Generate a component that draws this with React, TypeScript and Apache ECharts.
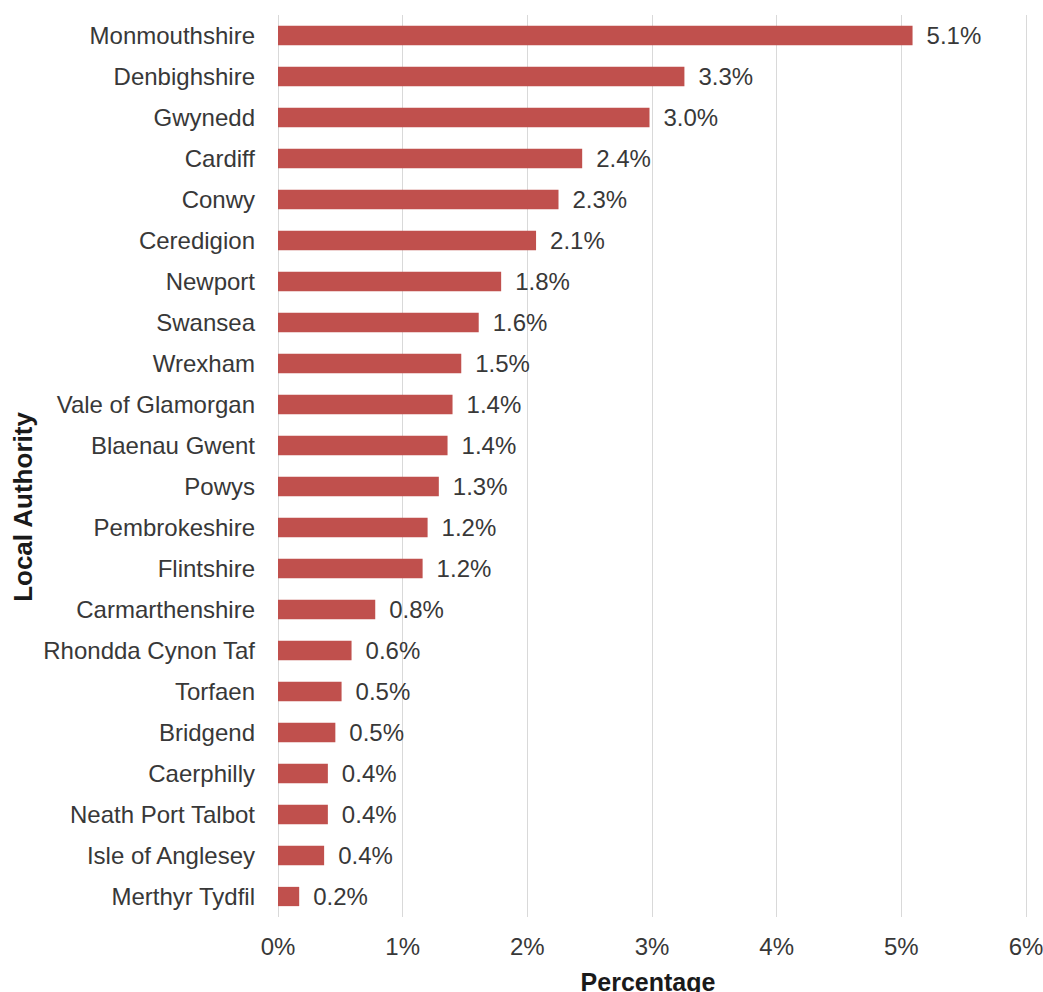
import React, { useEffect, useRef } from "react";
import * as echarts from "echarts";

const categories = [
  "Monmouthshire", "Denbighshire", "Gwynedd", "Cardiff", "Conwy", "Ceredigion",
  "Newport", "Swansea", "Wrexham", "Vale of Glamorgan", "Blaenau Gwent", "Powys",
  "Pembrokeshire", "Flintshire", "Carmarthenshire", "Rhondda Cynon Taf", "Torfaen",
  "Bridgend", "Caerphilly", "Neath Port Talbot", "Isle of Anglesey", "Merthyr Tydfil",
];
const values = [
  5.09, 3.26, 2.98, 2.44, 2.25, 2.07, 1.79, 1.61, 1.47, 1.40, 1.36, 1.29,
  1.20, 1.16, 0.78, 0.59, 0.51, 0.46, 0.40, 0.40, 0.37, 0.17,
];
const xTicks = [0, 1, 2, 3, 4, 5, 6];
const xTitle = "Percentage";
const yTitle = "Local Authority";

export default function App() {
  const ref = useRef<HTMLDivElement>(null);
  useEffect(() => {
    document.body.style.margin = "0";
    const chart = echarts.init(ref.current!, null, { renderer: "svg" });
    const font = "'Liberation Sans', Arial, sans-serif";
    chart.setOption({
      animation: false,
      textStyle: { fontFamily: font },
      grid: { left: 278, right: 17, top: 15, bottom: 75, containLabel: false, outerBoundsMode: "none" },
      graphic: [
        {
          type: "text",
          x: 23,
          y: 507,
          rotation: Math.PI / 2,
          style: {
            text: yTitle,
            fontSize: 26,
            fontWeight: "bold",
            fill: "#1a1a1a",
            fontFamily: font,
            align: "center",
            verticalAlign: "middle",
          },
        },
        {
          type: "text",
          x: 648,
          y: 982,
          style: {
            text: xTitle,
            fontSize: 25,
            fontWeight: "bold",
            fill: "#1a1a1a",
            fontFamily: font,
            align: "center",
            verticalAlign: "middle",
          },
        },
      ],
      xAxis: {
        type: "value",
        min: xTicks[0],
        max: xTicks[xTicks.length - 1],
        interval: 1,
        axisLine: { show: false },
        axisTick: { show: false },
        splitLine: { show: true, lineStyle: { color: "#d9d9d9", width: 1 } },
        axisLabel: {
          formatter: (v: number) => `${v}%`,
          fontSize: 24,
          color: "#383838",
          margin: 17,
          fontFamily: font,
        },
      },
      yAxis: {
        type: "category",
        data: categories,
        inverse: true,
        axisLine: { show: false },
        axisTick: { show: false },
        axisLabel: { fontSize: 24, color: "#383838", margin: 23, fontFamily: font },
      },
      series: [
        {
          type: "bar",
          data: values,
          barWidth: "47%",
          itemStyle: { color: "#c0504d" },
          label: {
            show: true,
            position: "right",
            distance: 14,
            formatter: (p: any) => `${(Math.round(p.value * 10) / 10).toFixed(1)}%`,
            fontSize: 24,
            color: "#383838",
            fontFamily: font,
          },
        },
      ],
    });
    return () => chart.dispose();
  }, []);
  return <div ref={ref} style={{ width: 1043, height: 992 }} />;
}
